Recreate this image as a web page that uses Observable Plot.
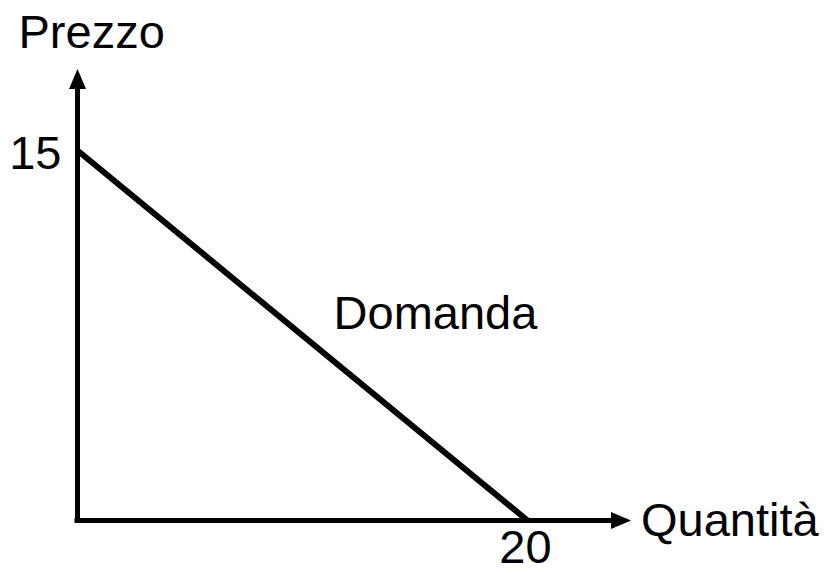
<!DOCTYPE html>
<html>
<head>
<meta charset="utf-8">
<script src="https://cdn.jsdelivr.net/npm/d3@7"></script>
<script src="https://cdn.jsdelivr.net/npm/@observablehq/plot@0.6"></script>
<style>
  html, body { margin: 0; padding: 0; background: #fff; }
  #chart { width: 824px; height: 573px; }
</style>
</head>
<body>
<div id="chart"></div>
<script>
// Demand line endpoints (quantity, price)
const quantity = [0, 20];
const price = [15, 0];
// Axis extents (data units, position of arrow tips)
const xAxisEnd = [24.6];
const yAxisEnd = [18.3];
// Labels
const yTickLabel = ["15"];
const xTickLabel = ["20"];
const yTitle = "Prezzo";
const xTitle = "Quantità";
const curveLabel = "Domanda";

const demand = quantity.map((q, i) => ({ q, p: price[i] }));
const font = "Liberation Sans, Arial, sans-serif";
const fs = 47;

// arrowhead symbol: tip at origin, pointing up
const arrowHead = {
  draw(context) {
    context.moveTo(0, 0);
    context.lineTo(8.5, 20);
    context.lineTo(-8.5, 20);
    context.closePath();
  }
};

const chart = Plot.plot({
  width: 824,
  height: 573,
  marginLeft: 77,
  marginRight: 297,
  marginTop: 150,
  marginBottom: 53,
  x: { domain: [0, 20], axis: null },
  y: { domain: [0, 15], axis: null },
  style: { fontFamily: font, background: "white", overflow: "visible" },
  marks: [
    // axes
    Plot.ruleX([0], { y1: yAxisEnd[0], y2: 0, stroke: "black", strokeWidth: 5, insetTop: 15, strokeLinecap: "square" }),
    Plot.ruleY([0], { x1: 0, x2: xAxisEnd[0], stroke: "black", strokeWidth: 5, insetRight: 15, strokeLinecap: "square" }),
    // arrow heads
    Plot.dot([{ x: 0, y: yAxisEnd[0] }], {
      x: "x", y: "y", symbol: arrowHead, fill: "black", stroke: "none"
    }),
    Plot.dot([{ x: xAxisEnd[0], y: 0 }], {
      x: "x", y: "y", symbol: arrowHead, fill: "black", stroke: "none", rotate: 90
    }),
    // demand line
    Plot.line(demand, { x: "q", y: "p", stroke: "black", strokeWidth: 6, strokeLinecap: "butt" }),
    // tick labels
    Plot.text(yTickLabel, { x: () => 0, y: () => 15, text: d => d, textAnchor: "end", dx: -16, dy: 3, fontSize: fs, fill: "black" }),
    Plot.text(xTickLabel, { x: () => 20, y: () => 0, text: d => d, textAnchor: "middle", dy: 27, dx: -2, fontSize: fs, fill: "black" }),
    // titles
    Plot.text([yTitle], { x: () => 0, y: () => yAxisEnd[0], text: d => d, textAnchor: "start", dx: -59, dy: -36, fontSize: fs, fill: "black" }),
    Plot.text([xTitle], { x: () => xAxisEnd[0], y: () => 0, text: d => d, textAnchor: "start", dx: 10, dy: 0, fontSize: fs, fill: "black" }),
    // curve label near the midpoint of the line
    Plot.text([curveLabel], { x: () => 10, y: () => 7.5, text: d => d, textAnchor: "middle", dx: 133, dy: -22, fontSize: fs, fill: "black" })
  ]
});
document.getElementById("chart").appendChild(chart);
</script>
</body>
</html>
